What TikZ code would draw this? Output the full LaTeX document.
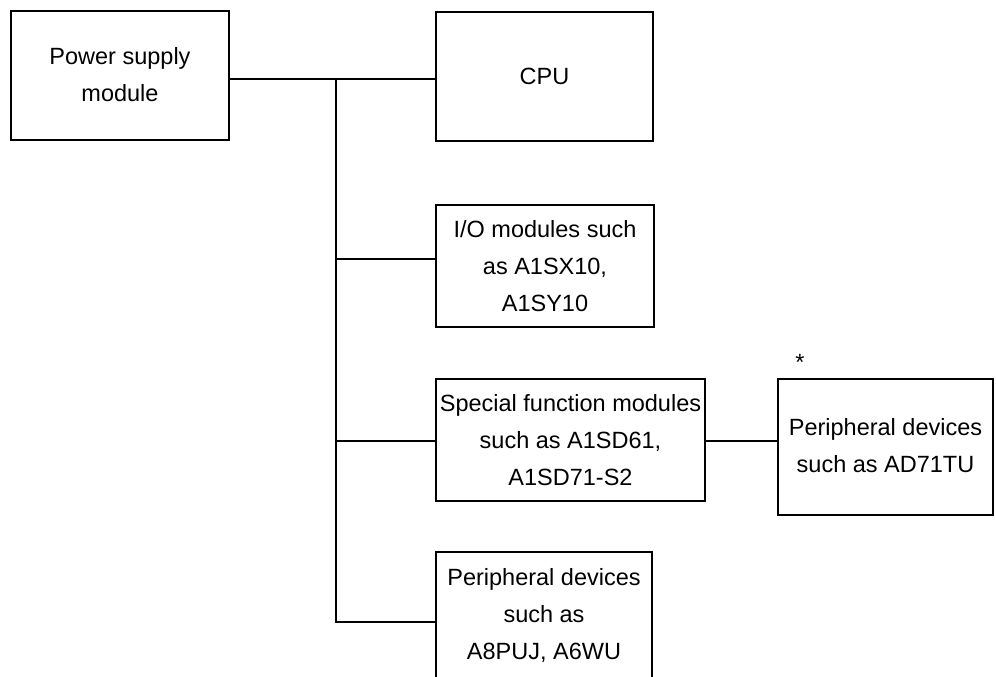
\documentclass[tikz,border=0pt]{standalone}
\usepackage{fontspec}
\setmainfont{Liberation Sans}
\newcommand{\boxlines}[2]{\raisebox{#1}{\begin{tabular}{@{}c@{}}#2\end{tabular}}}
\begin{document}
\begin{tikzpicture}[x=1pt,y=-1pt,
  box/.style={draw, line width=1.6pt, rectangle, inner sep=0pt, align=center,
    font=\fontsize{23.5}{37}\selectfont},
  txt/.style={inner sep=0pt, align=center, font=\fontsize{23.5}{37}\selectfont},
  conn/.style={line width=1.6pt}]
\useasboundingbox (0,0) rectangle (996,677);
\node[box, minimum width=218pt, minimum height=129pt] (ps) at (120,75.5) {\boxlines{7pt}{Power supply\\module}};
\node[box, minimum width=217pt, minimum height=129pt] (cpu) at (544.5,76.5) {CPU};
\node[box, minimum width=218pt, minimum height=122pt] (io) at (545,266) {I/O modules such\\as A1SX10,\\A1SY10};
\node[box, minimum width=269pt, minimum height=122pt] (sf) at (570.5,440) {Special function modules\\such as A1SD61,\\A1SD71-S2};
\node[box, minimum width=215pt, minimum height=136pt] (pd1) at (885.5,447) {\boxlines{6pt}{Peripheral devices\\such as AD71TU}};
\node[txt, minimum width=216pt, minimum height=126pt] (pd2) at (544,615) {Peripheral devices\\such as\\A8PUJ, A6WU};
\draw[conn] (pd2.south west) -- (pd2.north west) -- (pd2.north east) -- (pd2.south east);
\node[txt] (star) at (800,362) {*};
\coordinate (j0) at (336,79);
\coordinate (j1) at (336,259);
\coordinate (j2) at (336,441);
\coordinate (j3) at (336,622);
\draw[conn] (ps.east |- j0) -- (cpu.west |- j0);
\draw[conn] (j0) -- (j3) -- (pd2.west |- j3);
\draw[conn] (j1) -- (io.west |- j1);
\draw[conn] (j2) -- (sf.west |- j2);
\draw[conn] (sf.east |- j2) -- (pd1.west |- j2);
\end{tikzpicture}
\end{document}
